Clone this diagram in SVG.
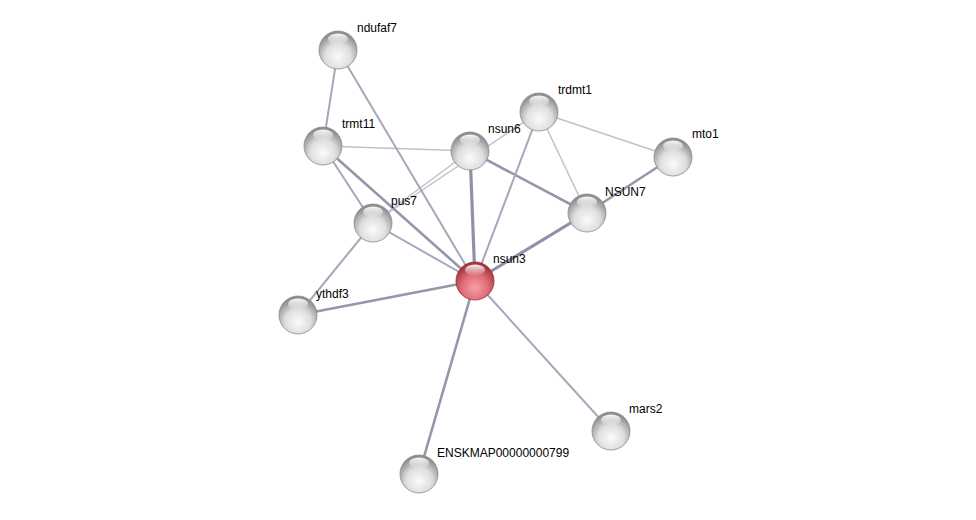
<svg xmlns="http://www.w3.org/2000/svg" width="976" height="520" viewBox="0 0 976 520">
<defs>
<radialGradient id="gGray" cx="50%" cy="68%" r="62%">
<stop offset="0" stop-color="#fbfbfb"/>
<stop offset="0.55" stop-color="#dedede"/>
<stop offset="1" stop-color="#8e8e8e"/>
</radialGradient>
<radialGradient id="gRed" cx="50%" cy="68%" r="62%">
<stop offset="0" stop-color="#f6a0a6"/>
<stop offset="0.55" stop-color="#e06e76"/>
<stop offset="1" stop-color="#a3343c"/>
</radialGradient>
<linearGradient id="hl" x1="0" y1="0" x2="0" y2="1">
<stop offset="0" stop-color="#fff" stop-opacity="0.95"/>
<stop offset="1" stop-color="#fff" stop-opacity="0.05"/>
</linearGradient>
<g id="ball">
<circle r="19" fill="url(#gGray)" stroke="#8a8a8a" stroke-width="0.8"/>
<ellipse cx="0" cy="-11" rx="10" ry="5.5" fill="url(#hl)"/>
</g>
<g id="ballRed">
<circle r="19" fill="url(#gRed)" stroke="#952a32" stroke-width="0.8"/>
<ellipse cx="0" cy="-11" rx="10" ry="5.5" fill="url(#hl)"/>
</g>
</defs>
<style>
text{font-family:"Liberation Sans",Arial,sans-serif;font-size:12px;fill:#000}
.e{stroke:#9da1b5;fill:none}
.w1{stroke-width:1.5;stroke:#bfc0cc}
.w2{stroke-width:2;stroke:#a4a8ba}
.w3{stroke-width:2.6;stroke:#9397ac}
.w4{stroke-width:3.2;stroke:#8e92a8}
</style>
<rect width="976" height="520" fill="#fff"/>
<g id="edges">
<line class="e w1" x1="323" y1="146" x2="470" y2="151"/>
<line class="e w1" x1="373" y1="223" x2="470" y2="151"/>
<line class="e w1" x1="373" y1="223" x2="539" y2="112"/>
<line class="e w1" x1="539" y1="112" x2="587" y2="213"/>
<line class="e w1" x1="539" y1="112" x2="673" y2="157"/>
<line class="e w2" x1="338" y1="50" x2="323" y2="146"/>
<line class="e w2" x1="338" y1="50" x2="475" y2="281"/>
<line class="e w3" x1="323" y1="146" x2="475" y2="281"/>
<line class="e w2" x1="323" y1="146" x2="373" y2="223"/>
<line class="e w4" x1="470" y1="151" x2="475" y2="281"/>
<line class="e w3" x1="470" y1="151" x2="587" y2="213"/>
<line class="e w2" x1="539" y1="112" x2="475" y2="281"/>
<line class="e w3" x1="673" y1="157" x2="587" y2="213"/>
<line class="e w4" x1="587" y1="213" x2="475" y2="281"/>
<line class="e w2" x1="373" y1="223" x2="475" y2="281"/>
<line class="e w2" x1="373" y1="223" x2="298" y2="315"/>
<line class="e w3" x1="298" y1="315" x2="475" y2="281"/>
<line class="e w2" x1="475" y1="281" x2="611" y2="431"/>
<line class="e w3" x1="475" y1="281" x2="419" y2="474"/>
</g>
<g id="n_ndufaf7"><use href="#ball" x="338" y="50"/><text x="357" y="32">ndufaf7</text></g>
<g id="n_trmt11"><use href="#ball" x="323" y="146"/><text x="342" y="128">trmt11</text></g>
<g id="n_nsun6"><use href="#ball" x="470" y="151"/><text x="488" y="133">nsun6</text></g>
<g id="n_trdmt1"><use href="#ball" x="539" y="112"/><text x="558" y="94">trdmt1</text></g>
<g id="n_mto1"><use href="#ball" x="673" y="157"/><text x="692" y="138">mto1</text></g>
<g id="n_NSUN7"><use href="#ball" x="587" y="213"/><text x="605" y="196">NSUN7</text></g>
<g id="n_pus7"><use href="#ball" x="373" y="223"/><text x="391" y="205">pus7</text></g>
<g id="n_nsun3"><use href="#ballRed" x="475" y="281"/><text x="493" y="263">nsun3</text></g>
<g id="n_ythdf3"><use href="#ball" x="298" y="315"/><text x="316" y="298">ythdf3</text></g>
<g id="n_mars2"><use href="#ball" x="611" y="431"/><text x="629" y="413">mars2</text></g>
<g id="n_ENSKMAP00000000799"><use href="#ball" x="419" y="474"/><text x="437" y="457">ENSKMAP00000000799</text></g>
</svg>
